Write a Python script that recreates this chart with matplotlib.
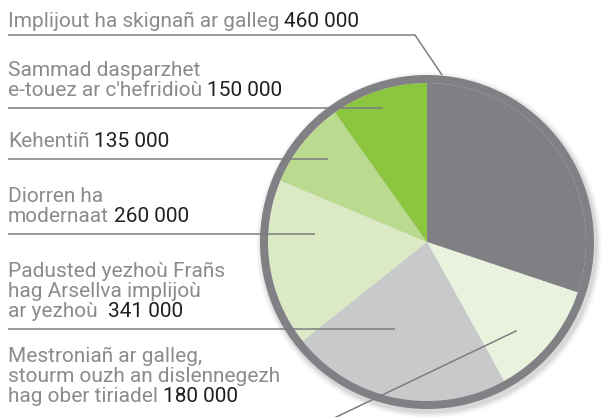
import matplotlib
matplotlib.use("Agg")
import matplotlib.pyplot as plt
from matplotlib.patches import Wedge, Circle

# ---- data ----
categories = [
    "Implijout ha skignañ ar galleg",
    "Mestroniañ ar galleg,\nstourm ouzh an dislennegezh\nhag ober tiriadel",
    "Padusted yezhoù Frañs\nhag Arsellva implijoù\nar yezhoù ",
    "Diorren ha\nmodernaat",
    "Kehentiñ",
    "Sammad dasparzhet\ne-touez ar c'hefridioù",
]
values = [460000, 180000, 341000, 260000, 135000, 150000]
value_labels = ["460 000", "180 000", "341 000", "260 000", "135 000", "150 000"]
colors = ["#7f7f84", "#e8f2dd", "#c8c9cb", "#dbeac5", "#b9da8f", "#8cc53f"]

# ---- layout (pixel coordinates, y from top) ----
W, H = 603, 417
cx, cy = 427, 242
r_in, r_out = 159, 167
line_gap = 19.8
label_layout = {
    0: dict(ty=27, ly=35, lx=415, ex=442, ey=75),
    5: dict(ty=96, ly=108, lx=383, ex=383, ey=108),
    4: dict(ty=147, ly=159, lx=328, ex=328, ey=159),
    3: dict(ty=222, ly=234, lx=315, ex=315, ey=234),
    2: dict(ty=317, ly=329, lx=395, ex=395, ey=329),
    1: dict(ty=402, ly=None, lx=None, ex=None, ey=None),
}

def Y(y):
    return H - y

fig = plt.figure(figsize=(W / 100, H / 100), dpi=100)
ax = fig.add_axes([0, 0, 1, 1])

# shadow
for k, a in [(6, 0.05), (4.5, 0.08), (3, 0.12), (1.5, 0.18)]:
    ax.add_patch(Circle((cx + 2, Y(cy) - 3), r_out + k, color="#9a9a9e", alpha=a, lw=0, zorder=1))

wedges, _ = ax.pie(values, colors=colors, startangle=90, counterclock=False,
                   center=(cx, Y(cy)), radius=r_in, frame=True,
                   wedgeprops=dict(linewidth=0))
for w in wedges:
    w.set_zorder(2)
ax.add_patch(Wedge((cx, Y(cy)), r_out, 0, 360, width=r_out - r_in,
                   facecolor="#808085", edgecolor="none", zorder=3))

text_gray = "#8b8b8e"
num_col = "#231f20"
font = "Roboto"
fs = 15

for i, cat in enumerate(categories):
    L = label_layout[i]
    lines = cat.split("\n")
    n = len(lines)
    last = None
    for j, ln in enumerate(lines):
        yb = L["ty"] - (n - 1 - j) * line_gap
        last = ax.text(8, Y(yb), ln, color=text_gray, fontsize=fs, family=font,
                       ha="left", va="baseline", zorder=5)
    ax.annotate(value_labels[i], xy=(1, 0), xycoords=last, xytext=(3.5, 0),
                textcoords="offset points", ha="left", va="bottom",
                color=num_col, fontsize=fs, family=font, zorder=5)
    if L["ly"] is not None:
        ax.plot([8, L["lx"], L["ex"]], [Y(L["ly"]), Y(L["ly"]), Y(L["ey"])],
                color="#7d7d80", lw=1.1, zorder=6, solid_capstyle="butt")

# diagonal for the last slice
ax.plot([516, 330], [Y(331), Y(420)], color="#7d7d80", lw=1.1, zorder=6)

ax.set_xlim(0, W)
ax.set_ylim(0, H)
ax.set_aspect("auto")
ax.axis("off")
fig.savefig("out.png", dpi=100)
